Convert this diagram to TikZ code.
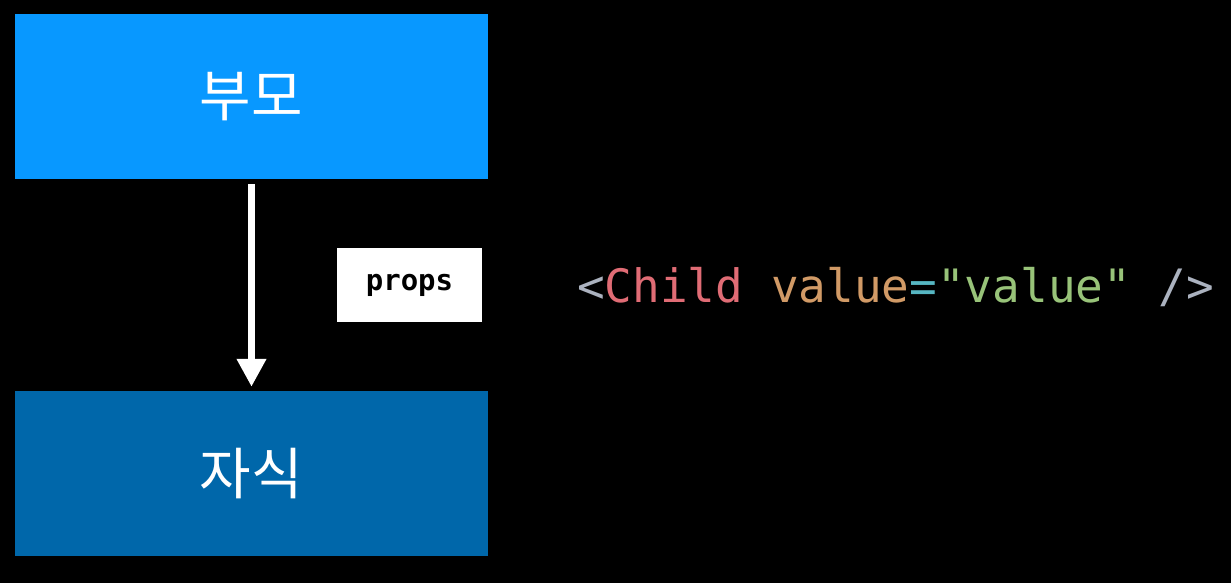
\documentclass[tikz,border=0pt]{standalone}
\usepackage{fontspec}
\newfontfamily\korfont{Noto Sans CJK KR}
\newfontfamily\codefont{DejaVu Sans Mono}
\usetikzlibrary{arrows.meta, positioning}
\definecolor{parentblue}{RGB}{8, 152, 255}
\definecolor{childblue}{RGB}{0, 103, 170}
\definecolor{codegrey}{RGB}{171, 178, 191}
\definecolor{codered}{RGB}{224, 108, 117}
\definecolor{codeorange}{RGB}{209, 154, 102}
\definecolor{codecyan}{RGB}{86, 182, 194}
\definecolor{codegreen}{RGB}{152, 195, 121}

\tikzset{
  compbox/.style={minimum width=473pt, minimum height=165pt, inner sep=0pt,
    text=white, font=\korfont\fontsize{56}{60}\selectfont},
  propbox/.style={fill=white, minimum width=145pt, minimum height=74pt, inner sep=0pt,
    font=\codefont\bfseries\fontsize{29}{32}\selectfont},
  flow/.style={draw=white, line width=7pt, -{Triangle[width=28pt, length=28pt]}}
}

\begin{document}
\begin{tikzpicture}[x=1pt, y=-1pt]
  \fill[black] (0,0) rectangle (1231,583);
  \useasboundingbox (0,0) rectangle (1231,583);

  \node[compbox, fill=parentblue] (parent) at (251.5,96.5) {부모};
  \node[compbox, fill=childblue] (child) at (251.5,473.5) {자식};
  \node[propbox] (props) at (409.5,285) {props};

  \draw[flow, shorten <=5pt, shorten >=4pt] (parent.south) -- (child.north);

  % JSX line
  \node[anchor=base west, inner sep=0pt, font=\codefont\fontsize{46}{50}\selectfont] (code) at (577,302)
    {\textcolor{codegrey}{<}\textcolor{codered}{Child} \textcolor{codeorange}{value}\textcolor{codecyan}{=}\textcolor{codegreen}{"value"} \textcolor{codegrey}{/>}};
\end{tikzpicture}
\end{document}
